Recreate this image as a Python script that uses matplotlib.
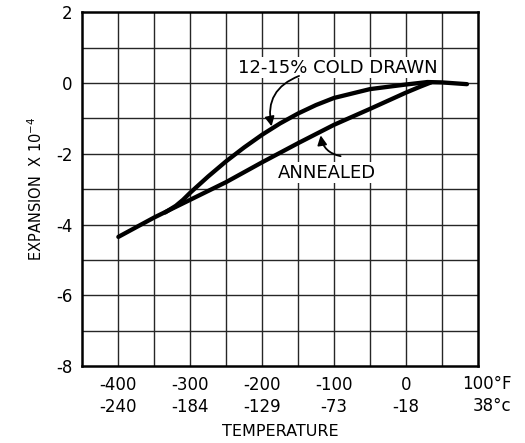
import matplotlib
matplotlib.use("Agg")
import matplotlib.pyplot as plt

annealed_x = [-400, -350, -320, -300, -275, -250, -225, -200, -150, -100, -50, 0, 20, 35]
annealed_y = [-4.35, -3.80, -3.50, -3.30, -3.05, -2.80, -2.52, -2.24, -1.70, -1.18, -0.73, -0.27, -0.10, 0.02]
cold_x = [-335, -320, -310, -300, -275, -250, -225, -200, -175, -150, -125, -100, -50, 0, 30, 50, 85]
cold_y = [-3.66, -3.47, -3.30, -3.10, -2.64, -2.21, -1.82, -1.46, -1.14, -0.86, -0.62, -0.42, -0.17, -0.04, 0.03, 0.02, -0.03]

f_ticks = [-400, -300, -200, -100, 0]
c_ticks = ["-240", "-184", "-129", "-73", "-18"]
y_ticks = [2, 0, -2, -4, -6, -8]

plt.rcParams['font.family'] = ['DejaVu Sans']
fig = plt.figure(figsize=(5.25, 4.43), dpi=100)
ax = fig.add_axes([0.157, 0.174, 0.753, 0.798])

ax.set_xlim(-450, 100)
ax.set_ylim(-8, 2)

# grid every 50 F and every 1 unit
for gx in range(-400, 100, 50):
    ax.axvline(gx, color='0.15', lw=1.0, zorder=1)
for gy in range(-7, 2):
    ax.axhline(gy, color='0.15', lw=1.0, zorder=1)

ax.plot(annealed_x, annealed_y, color='black', lw=3.1, solid_capstyle='round',
        solid_joinstyle='round', zorder=3)
ax.plot(cold_x, cold_y, color='black', lw=3.1, solid_capstyle='round',
        solid_joinstyle='round', zorder=3)

ax.set_xticks(f_ticks)
ax.set_xticklabels([str(a) + "\n" + b for a, b in zip(f_ticks, c_ticks)], fontsize=12, linespacing=1.3)
ax.set_yticks(y_ticks)
ax.set_yticklabels([str(v) for v in y_ticks], fontsize=12)
ax.tick_params(length=0, pad=7)
ax.text(1.085, -0.025, "100°F\n38°c", transform=ax.transAxes, ha='right', va='top',
        fontsize=12, linespacing=1.3)

for s in ax.spines.values():
    s.set_linewidth(1.8)

ax.set_xlabel("TEMPERATURE", fontsize=11.5, labelpad=6)
ax.set_ylabel(r"EXPANSION  X 10$^{-4}$", fontsize=10.5, labelpad=8)

# labels with squiggly arrows
ax.text(-95, 0.43, "12-15% COLD DRAWN", fontsize=13, ha='center', va='center', zorder=4,
        bbox=dict(facecolor='white', edgecolor='none', pad=1))
ax.annotate("", xy=(-186, -1.3), xytext=(-145, 0.23),
            arrowprops=dict(arrowstyle='-|>', color='black', lw=1.3,
                            connectionstyle="arc3,rad=0.45", mutation_scale=14), zorder=4)
ax.text(-110, -2.53, "ANNEALED", fontsize=13, ha='center', va='center', zorder=4,
        bbox=dict(facecolor='white', edgecolor='none', pad=1))
ax.annotate("", xy=(-119, -1.4), xytext=(-87, -2.08),
            arrowprops=dict(arrowstyle='-|>', color='black', lw=1.3,
                            connectionstyle="arc3,rad=-0.4", mutation_scale=14), zorder=4)

fig.savefig("out.png", dpi=100)
